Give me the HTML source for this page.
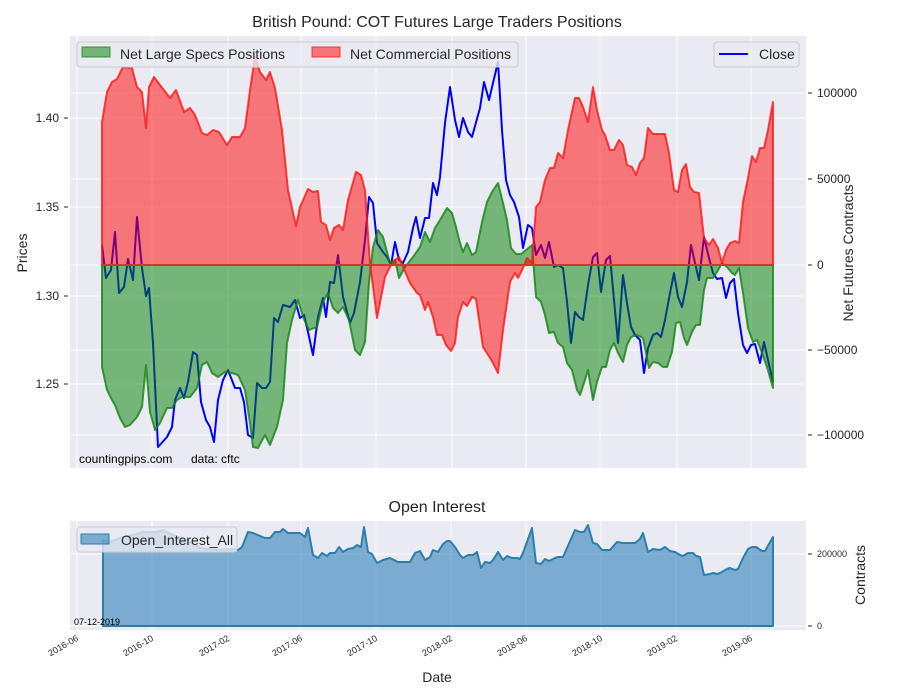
<!DOCTYPE html>
<html><head><meta charset="utf-8"><style>
html,body{margin:0;padding:0;background:#fff;}
svg{display:block;font-family:"Liberation Sans",sans-serif;}
</style></head><body>
<svg width="900" height="700" viewBox="0 0 900 700" xmlns="http://www.w3.org/2000/svg">
<rect width="900" height="700" fill="#fff"/>
<rect x="70" y="36" width="736" height="432" fill="#eaeaf2"/>
<g stroke="#fff" stroke-width="1">
<line x1="77" y1="36" x2="77" y2="468"/><line x1="152" y1="36" x2="152" y2="468"/><line x1="228" y1="36" x2="228" y2="468"/><line x1="301" y1="36" x2="301" y2="468"/><line x1="376" y1="36" x2="376" y2="468"/><line x1="452" y1="36" x2="452" y2="468"/><line x1="526" y1="36" x2="526" y2="468"/><line x1="600" y1="36" x2="600" y2="468"/><line x1="677" y1="36" x2="677" y2="468"/><line x1="751" y1="36" x2="751" y2="468"/>
<line x1="70" y1="118" x2="806" y2="118"/><line x1="70" y1="207" x2="806" y2="207"/><line x1="70" y1="296" x2="806" y2="296"/><line x1="70" y1="384" x2="806" y2="384"/>
<line x1="70" y1="93" x2="806" y2="93"/><line x1="70" y1="179" x2="806" y2="179"/><line x1="70" y1="265" x2="806" y2="265"/><line x1="70" y1="350" x2="806" y2="350"/><line x1="70" y1="435" x2="806" y2="435"/>
</g>
<polyline fill="none" stroke="#0000ff" stroke-width="2" stroke-linejoin="round" points="102,245 106,278 111,270 115,232 119,293 124,287 128,259 133,280 137,217 142,268 146,296 149,288 153,343 158,447 167,437 172,427 175,400 180,388 184,398 188,382 193,352 197,355 201,402 206,420 210,427 214,442 218,400 223,380 228,370 235,388 240,388 244,402 248,435 253,438 257,383 262,388 266,388 270,382 274,318 278,322 283,305 290,307 295,300 300,318 304,315 308,332 313,355 318,317 323,298 326,317 330,282 334,283 338,255 343,297 350,323 354,313 360,282 365,240 369,197 373,203 377,243 383,252 387,257 391,265 395,242 399,260 403,263 408,252 413,228 416,217 420,238 425,218 429,218 433,183 437,195 440,177 445,123 450,87 455,120 459,137 463,118 468,132 472,137 480,108 484,82 489,100 493,83 498,62 502,130 506,180 510,195 514,202 519,217 523,248 528,225 532,228 536,255 541,245 545,258 549,242 554,267 558,265 563,268 567,302 571,343 575,312 579,317 583,320 588,285 593,257 597,253 601,292 606,260 610,256 614,300 618,343 623,275 627,303 631,327 635,335 640,340 644,373 648,348 653,335 657,333 661,337 665,320 670,293 674,273 678,297 682,307 687,282 691,245 695,263 699,280 704,237 709,258 713,273 717,279 722,278 726,298 730,283 734,279 738,313 743,345 747,353 751,345 755,344 760,363 764,342 768,360 773,382"/>
<polygon fill="rgba(0,128,0,0.5)" stroke="rgba(20,130,20,0.8)" stroke-width="2" stroke-linejoin="round" points="102,367 107,390 112,400 115,405 120,418 125,427 130,425 137,417 142,407 146,365 150,412 155,430 160,423 167,408 172,408 177,400 182,397 190,397 197,388 202,365 207,362 212,373 218,377 225,372 232,373 238,375 245,390 250,423 253,447 258,448 265,435 270,445 277,427 283,400 287,343 292,320 298,300 303,317 309,330 317,327 323,302 328,293 333,308 338,313 343,307 349,320 355,350 360,355 365,342 369,283 373,247 378,230 383,237 390,263 395,260 399,278 405,267 413,257 420,247 425,232 430,242 435,228 440,220 447,208 452,213 456,227 460,243 463,252 467,243 472,255 476,252 482,222 487,202 492,192 498,183 503,203 507,220 511,248 516,254 521,254 526,250 532,245 536,297 541,302 545,315 549,333 554,332 558,343 563,347 567,363 572,370 577,390 580,395 584,383 588,370 593,400 597,382 602,367 606,367 610,350 614,343 618,353 623,362 627,345 631,337 637,335 643,338 649,368 653,362 658,363 663,367 667,367 672,352 676,323 680,322 684,338 687,345 692,332 696,325 700,325 704,290 707,278 713,278 717,272 722,263 727,267 732,273 735,275 739,268 743,293 748,328 753,342 757,340 762,353 767,367 773,388 773,265 102,265"/>
<polygon fill="rgba(255,0,0,0.5)" stroke="rgba(255,20,20,0.8)" stroke-width="2" stroke-linejoin="round" points="102,122 107,92 112,82 117,79 123,67 132,68 137,87 142,92 146,128 149,87 154,77 160,85 170,98 176,90 184,112 190,108 195,115 202,133 207,135 213,130 219,132 227,145 232,137 240,137 245,128 250,90 255,57 260,72 266,80 270,72 275,88 282,130 288,190 296,226 300,207 308,189 313,192 318,191 321,222 326,225 330,240 334,228 339,225 343,230 348,200 356,172 361,175 365,190 370,263 377,318 385,277 390,267 395,260 399,257 403,267 410,283 417,293 420,295 425,310 428,302 433,317 437,335 442,335 446,345 451,351 455,343 458,317 463,302 467,306 472,297 476,299 483,347 490,358 493,363 498,373 503,330 510,282 515,273 518,278 523,268 527,258 532,263 536,207 540,202 545,180 550,168 554,168 558,153 563,158 568,130 575,98 579,98 583,107 588,122 593,87 597,110 602,130 605,135 610,150 614,150 619,140 623,145 627,165 632,167 636,175 640,163 644,158 648,128 653,134 665,134 669,153 674,190 678,192 682,170 686,164 690,187 694,192 699,193 704,238 709,245 713,239 718,248 722,263 726,250 730,243 735,241 739,243 743,202 748,178 752,156 756,162 760,148 764,148 768,130 773,102 773,265 102,265"/>
<line x1="102" y1="265" x2="773" y2="265" stroke="#c0402a" stroke-width="2"/>
<rect x="77" y="42" width="441" height="25" rx="3" fill="#eaeaf2" fill-opacity="0.8" stroke="#ccc"/>
<rect x="82" y="47" width="28" height="10" fill="rgba(0,128,0,0.5)" stroke="rgba(20,130,20,0.8)"/>
<text x="120" y="59" font-size="14" fill="#262626">Net Large Specs Positions</text>
<rect x="312" y="47" width="28" height="10" fill="rgba(255,0,0,0.5)" stroke="rgba(255,20,20,0.8)"/>
<text x="350" y="59" font-size="14" fill="#262626">Net Commercial Positions</text>
<rect x="714" y="42" width="85" height="25" rx="3" fill="#eaeaf2" fill-opacity="0.8" stroke="#ccc"/>
<line x1="719" y1="54" x2="748" y2="54" stroke="#0000ff" stroke-width="2"/>
<text x="759" y="59" font-size="14" fill="#262626">Close</text>
<text x="79" y="463" font-size="12" fill="#000">countingpips.com</text>
<text x="191" y="463" font-size="12" fill="#000">data: cftc</text>
<text x="437" y="27" font-size="16" text-anchor="middle" fill="#262626">British Pound: COT Futures Large Traders Positions</text>
<g font-size="12" fill="#262626" text-anchor="end">
<text x="59" y="122">1.40</text><text x="59" y="211">1.35</text><text x="59" y="300">1.30</text><text x="59" y="388">1.25</text>
</g>
<g stroke="#262626"><line x1="64" y1="118" x2="68" y2="118"/><line x1="64" y1="207" x2="68" y2="207"/><line x1="64" y1="296" x2="68" y2="296"/><line x1="64" y1="384" x2="68" y2="384"/>
<line x1="808" y1="93" x2="812" y2="93"/><line x1="808" y1="179" x2="812" y2="179"/><line x1="808" y1="265" x2="812" y2="265"/><line x1="808" y1="350" x2="812" y2="350"/><line x1="808" y1="435" x2="812" y2="435"/>
<line x1="808" y1="554" x2="812" y2="554"/><line x1="808" y1="626" x2="812" y2="626"/></g>
<g font-size="12" fill="#262626">
<text x="817" y="97">100000</text><text x="817" y="183">50000</text><text x="817" y="269">0</text><text x="817" y="354">−50000</text><text x="817" y="439">−100000</text>
</g>
<text transform="translate(27,253) rotate(-90)" font-size="14" text-anchor="middle" fill="#262626">Prices</text>
<text transform="translate(853,253) rotate(-90)" font-size="14" text-anchor="middle" fill="#262626">Net Futures Contracts</text>
<text x="437" y="512" font-size="16" text-anchor="middle" fill="#262626">Open Interest</text>
<rect x="70" y="521" width="736" height="109" fill="#eaeaf2"/>
<g stroke="#fff" stroke-width="1">
<line x1="77" y1="521" x2="77" y2="630"/><line x1="152" y1="521" x2="152" y2="630"/><line x1="228" y1="521" x2="228" y2="630"/><line x1="301" y1="521" x2="301" y2="630"/><line x1="376" y1="521" x2="376" y2="630"/><line x1="451" y1="521" x2="451" y2="630"/><line x1="526" y1="521" x2="526" y2="630"/><line x1="601" y1="521" x2="601" y2="630"/><line x1="676" y1="521" x2="676" y2="630"/><line x1="751" y1="521" x2="751" y2="630"/>
<line x1="70" y1="554" x2="806" y2="554"/><line x1="70" y1="626" x2="806" y2="626"/>
</g>
<polygon fill="rgba(31,119,180,0.55)" stroke="#2b7fab" stroke-width="2" stroke-linejoin="round" points="103,540 110,542 120,538 133,535 143,532 157,532 163,530 173,535 187,540 200,548 217,550 233,549 238,550 242,547 248,532 253,533 265,538 270,538 275,532 280,532 283,529 288,533 300,533 305,537 308,528 313,555 318,558 322,553 327,556 330,553 335,553 339,547 343,552 348,549 353,548 357,545 361,547 364,527 368,552 372,554 377,563 383,560 390,558 398,562 410,562 415,553 420,551 425,560 430,557 433,550 438,552 443,544 447,541 450,541 455,547 460,555 463,558 468,555 473,555 477,552 481,568 485,562 490,563 493,560 498,552 503,560 507,556 512,558 517,558 520,559 523,553 532,528 536,563 541,564 545,559 549,561 555,558 558,557 563,557 575,530 580,532 584,532 588,525 593,543 597,544 602,550 610,550 617,542 623,543 635,543 640,539 643,533 648,552 653,549 660,550 665,547 670,551 675,552 680,555 683,556 688,553 693,553 696,556 700,557 704,575 710,574 713,573 717,574 720,573 727,569 730,568 735,570 738,569 743,558 748,549 752,547 756,547 762,551 765,551 773,537 773,626 103,626"/>
<rect x="77" y="527" width="160" height="25" rx="3" fill="#eaeaf2" fill-opacity="0.8" stroke="#ccc"/>
<rect x="81" y="534" width="28" height="10" fill="rgba(31,119,180,0.55)" stroke="#2b7fab"/>
<text x="121" y="545" font-size="14" fill="#262626">Open_Interest_All</text>
<text x="74" y="625" font-size="9" fill="#000">07-12-2019</text>
<g font-size="9" fill="#262626">
<text x="817" y="557">200000</text><text x="817" y="629">0</text>
</g>
<text transform="translate(865,575) rotate(-90)" font-size="14" text-anchor="middle" fill="#262626">Contracts</text>
<g font-size="9" fill="#262626" text-anchor="end">
<text transform="translate(79,640) rotate(-30)">2016-06</text>
<text transform="translate(154,640) rotate(-30)">2016-10</text>
<text transform="translate(230,640) rotate(-30)">2017-02</text>
<text transform="translate(303,640) rotate(-30)">2017-06</text>
<text transform="translate(378,640) rotate(-30)">2017-10</text>
<text transform="translate(453,640) rotate(-30)">2018-02</text>
<text transform="translate(528,640) rotate(-30)">2018-06</text>
<text transform="translate(603,640) rotate(-30)">2018-10</text>
<text transform="translate(678,640) rotate(-30)">2019-02</text>
<text transform="translate(753,640) rotate(-30)">2019-06</text>
</g>
<text x="437" y="682" font-size="14" text-anchor="middle" fill="#262626">Date</text>
</svg>
</body></html>
